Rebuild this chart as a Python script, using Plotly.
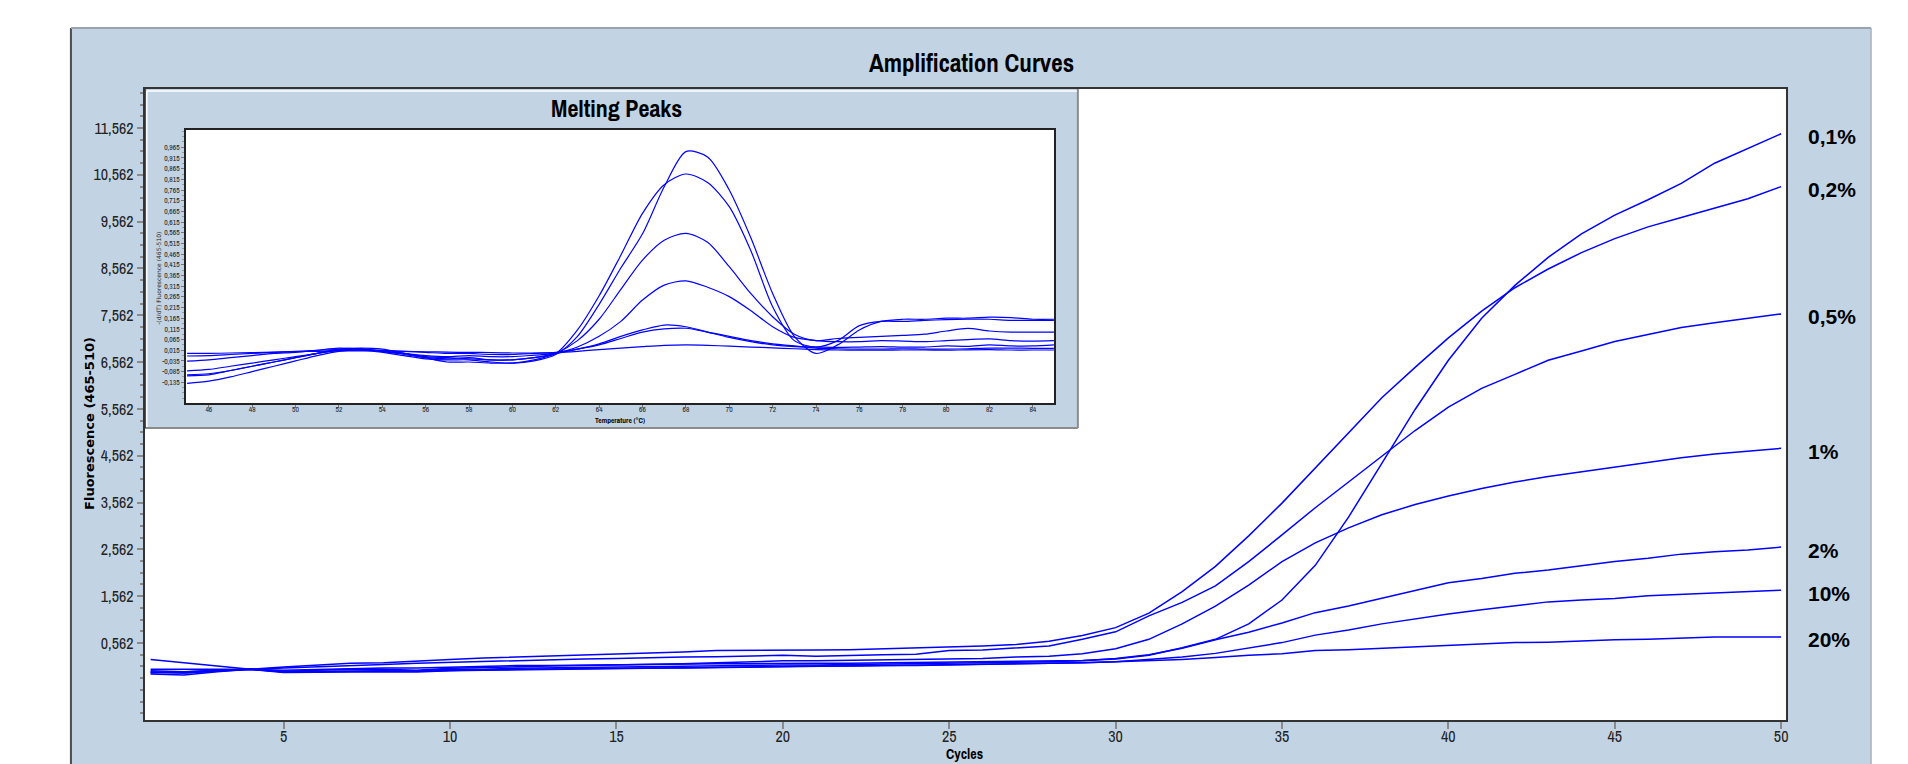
import plotly.graph_objects as go

# ---------------- DATA ----------------
cycles = list(range(1, 51))

amp_labels = ["0,1%", "0,2%", "0,5%", "1%", "2%", "10%", "20%"]

amp_01 = [-0.06, -0.08, -0.04, 0.0, -0.02, 0.0, 0.02, 0.03, 0.03, 0.05,
          0.06, 0.08, 0.08, 0.09, 0.10, 0.10, 0.11, 0.12, 0.12, 0.13,
          0.13, 0.13, 0.14, 0.15, 0.15, 0.16, 0.17, 0.18, 0.19, 0.22,
          0.30, 0.46, 0.64, 0.97, 1.48, 2.22, 3.25, 4.40, 5.55, 6.60,
          7.50, 8.20, 8.80, 9.30, 9.70, 10.03, 10.38, 10.81, 11.12, 11.44]
amp_02 = [0.21, 0.14, 0.07, 0.0, 0.05, 0.09, 0.13, 0.14, 0.18, 0.21,
          0.24, 0.26, 0.28, 0.31, 0.33, 0.35, 0.37, 0.40, 0.40, 0.40,
          0.41, 0.42, 0.44, 0.45, 0.48, 0.50, 0.53, 0.60, 0.72, 0.89,
          1.20, 1.66, 2.20, 2.85, 3.55, 4.30, 5.05, 5.80, 6.45, 7.08,
          7.65, 8.15, 8.55, 8.90, 9.20, 9.45, 9.65, 9.85, 10.05, 10.31]
amp_05 = [0.00, 0.00, 0.01, 0.0, 0.03, 0.05, 0.08, 0.10, 0.13, 0.15,
          0.17, 0.19, 0.20, 0.22, 0.23, 0.25, 0.26, 0.27, 0.29, 0.30,
          0.28, 0.30, 0.31, 0.32, 0.40, 0.41, 0.45, 0.50, 0.64, 0.80,
          1.14, 1.43, 1.78, 2.30, 2.87, 3.45, 4.00, 4.55, 5.10, 5.60,
          6.00, 6.30, 6.60, 6.80, 7.00, 7.15, 7.30, 7.40, 7.50, 7.59]
amp_1 = [-0.03, -0.05, -0.02, 0.0, -0.04, -0.02, 0.0, 0.0, -0.02, 0.02,
         0.04, 0.06, 0.07, 0.08, 0.09, 0.10, 0.12, 0.14, 0.16, 0.18,
         0.18, 0.19, 0.20, 0.20, 0.22, 0.23, 0.26, 0.28, 0.33, 0.44,
         0.64, 0.97, 1.35, 1.80, 2.30, 2.70, 3.02, 3.30, 3.52, 3.70,
         3.86, 4.00, 4.12, 4.22, 4.32, 4.42, 4.52, 4.60, 4.66, 4.72]
amp_2 = [-0.10, -0.12, -0.05, 0.0, -0.06, -0.05, -0.04, -0.03, -0.03, 0.0,
         0.0, 0.02, 0.03, 0.03, 0.04, 0.05, 0.06, 0.07, 0.08, 0.09,
         0.09, 0.10, 0.10, 0.11, 0.12, 0.13, 0.14, 0.16, 0.18, 0.23,
         0.31, 0.45, 0.63, 0.79, 0.99, 1.21, 1.35, 1.52, 1.68, 1.85,
         1.94, 2.05, 2.12, 2.21, 2.30, 2.37, 2.46, 2.51, 2.55, 2.61]
amp_10 = [-0.06, -0.08, -0.03, 0.0, -0.07, -0.06, -0.05, -0.05, -0.06, -0.03,
          -0.02, -0.01, 0.0, 0.0, 0.01, 0.02, 0.03, 0.04, 0.05, 0.06,
          0.07, 0.07, 0.08, 0.09, 0.10, 0.10, 0.11, 0.12, 0.14, 0.16,
          0.21, 0.26, 0.34, 0.45, 0.57, 0.73, 0.84, 0.97, 1.08, 1.18,
          1.27, 1.35, 1.44, 1.48, 1.51, 1.57, 1.60, 1.63, 1.66, 1.69]
amp_20 = [-0.08, -0.06, -0.02, 0.0, -0.05, -0.04, -0.03, -0.03, -0.04, -0.02,
          -0.01, 0.0, 0.01, 0.01, 0.02, 0.03, 0.03, 0.04, 0.05, 0.06,
          0.06, 0.07, 0.08, 0.08, 0.09, 0.10, 0.11, 0.12, 0.14, 0.16,
          0.18, 0.21, 0.25, 0.30, 0.33, 0.40, 0.42, 0.45, 0.49, 0.52,
          0.55, 0.57, 0.58, 0.61, 0.63, 0.64, 0.66, 0.69, 0.69, 0.69]

amp_series = [amp_01, amp_02, amp_05, amp_1, amp_2, amp_10, amp_20]

amp_x_ticks = [5, 10, 15, 20, 25, 30, 35, 40, 45, 50]
amp_y_ticks = [0.562, 1.562, 2.562, 3.562, 4.562, 5.562, 6.562, 7.562,
               8.562, 9.562, 10.562, 11.562]
amp_y_ticktext = ["0,562", "1,562", "2,562", "3,562", "4,562", "5,562",
                  "6,562", "7,562", "8,562", "9,562", "10,562", "11,562"]

temps = list(range(45, 86))
melt_1 = [-0.140, -0.130, -0.110, -0.085, -0.060, -0.035, -0.010, 0.010, 0.015, 0.005,
          -0.010, -0.025, -0.030, -0.030, -0.040, -0.045, -0.035, -0.005, 0.080, 0.230,
          0.400, 0.560, 0.780, 0.945, 0.920, 0.765, 0.540, 0.281, 0.080, 0.000,
          0.040, 0.110, 0.150, 0.160, 0.160, 0.165, 0.165, 0.170, 0.168, 0.160, 0.160]
melt_2 = [-0.100, -0.095, -0.080, -0.060, -0.040, -0.020, 0.000, 0.015, 0.020, 0.010,
          0.000, -0.015, -0.020, -0.025, -0.030, -0.030, -0.020, 0.000, 0.110, 0.270,
          0.460, 0.656, 0.790, 0.840, 0.800, 0.687, 0.480, 0.219, 0.060, 0.030,
          0.060, 0.130, 0.150, 0.150, 0.155, 0.158, 0.160, 0.160, 0.155, 0.155, 0.155]
melt_3 = [-0.105, -0.100, -0.080, -0.060, -0.040, -0.020, 0.000, 0.020, 0.025, 0.020,
          0.000, -0.020, -0.040, -0.040, -0.045, -0.045, -0.030, 0.000, 0.060, 0.160,
          0.300, 0.437, 0.530, 0.562, 0.520, 0.406, 0.280, 0.172, 0.090, 0.060,
          0.070, 0.075, 0.080, 0.085, 0.090, 0.105, 0.117, 0.105, 0.100, 0.100, 0.100]
melt_4 = [-0.082, -0.075, -0.060, -0.045, -0.030, -0.015, 0.000, 0.015, 0.020, 0.010,
          -0.005, -0.020, -0.025, -0.020, -0.030, -0.030, -0.020, 0.000, 0.030, 0.080,
          0.150, 0.250, 0.320, 0.340, 0.310, 0.266, 0.200, 0.125, 0.075, 0.060,
          0.055, 0.055, 0.060, 0.058, 0.055, 0.060, 0.065, 0.068, 0.060, 0.058, 0.060]
melt_5 = [-0.036, -0.030, -0.020, -0.010, 0.000, 0.005, 0.015, 0.025, 0.020, 0.010,
          0.000, -0.010, -0.015, -0.010, -0.015, -0.015, -0.008, 0.000, 0.020, 0.045,
          0.080, 0.110, 0.133, 0.125, 0.100, 0.075, 0.055, 0.040, 0.032, 0.030,
          0.028, 0.030, 0.032, 0.030, 0.030, 0.035, 0.033, 0.040, 0.035, 0.035, 0.040]
melt_6 = [-0.012, -0.010, -0.005, 0.000, 0.005, 0.010, 0.015, 0.018, 0.018, 0.015,
          0.010, 0.005, 0.000, 0.000, -0.005, -0.005, 0.000, 0.005, 0.020, 0.040,
          0.070, 0.100, 0.115, 0.118, 0.100, 0.080, 0.060, 0.045, 0.035, 0.025,
          0.022, 0.020, 0.020, 0.022, 0.020, 0.020, 0.022, 0.025, 0.025, 0.024, 0.024]
melt_7 = [0.000, 0.000, 0.002, 0.004, 0.006, 0.008, 0.010, 0.012, 0.012, 0.012,
          0.010, 0.008, 0.006, 0.005, 0.004, 0.002, 0.002, 0.004, 0.010, 0.018,
          0.025, 0.032, 0.038, 0.040, 0.038, 0.034, 0.030, 0.026, 0.022, 0.018,
          0.016, 0.015, 0.015, 0.016, 0.016, 0.015, 0.017, 0.018, 0.016, 0.016, 0.016]
melt_series = [melt_1, melt_2, melt_3, melt_4, melt_5, melt_6, melt_7]

melt_x_ticks = [46, 48, 50, 52, 54, 56, 58, 60, 62, 64, 66, 68, 70, 72, 74,
                76, 78, 80, 82, 84]
melt_y_ticks = [0.965, 0.915, 0.865, 0.815, 0.765, 0.715, 0.665, 0.615, 0.565,
                0.515, 0.465, 0.415, 0.365, 0.315, 0.265, 0.215, 0.165, 0.115,
                0.065, 0.015, -0.035, -0.085, -0.135]
melt_y_ticktext = ["0,965", "0,915", "0,865", "0,815", "0,765", "0,715", "0,665",
                   "0,615", "0,565", "0,515", "0,465", "0,415", "0,365", "0,315",
                   "0,265", "0,215", "0,165", "0,115", "0,065", "0,015", "-0,035",
                   "-0,085", "-0,135"]

# ---------------- LAYOUT HELPERS ----------------
# the page body keeps its default 8px margin; positions below are window pixels
OFF = 8
W, H = 1900, 756
def px(x):
    return (x - OFF) / W
def py(y):
    return 1 - (y - OFF) / H

PANEL = "#C2D4E4"
BLUE = "rgb(0,0,255)"
NARROW = "Archivo Narrow, Liberation Sans Narrow, DejaVu Sans Condensed, sans-serif"
ARIAL = "Liberation Sans, Arial, sans-serif"

fig = go.Figure()

for s in amp_series:
    fig.add_trace(go.Scatter(x=cycles, y=s, mode="lines", xaxis="x", yaxis="y",
                             line=dict(color=BLUE, width=1.5), hoverinfo="skip",
                             showlegend=False))
for s in melt_series:
    fig.add_trace(go.Scatter(x=temps, y=s, mode="lines", xaxis="x2", yaxis="y2",
                             line=dict(color=BLUE, width=1.2, shape="spline", smoothing=0.8),
                             hoverinfo="skip", showlegend=False))

shapes = [
    dict(type="rect", xref="paper", yref="paper", x0=px(71), x1=px(1873), y0=py(770), y1=py(28),
         fillcolor=PANEL, line=dict(width=0), layer="below"),
    dict(type="line", xref="paper", yref="paper", x0=px(71), x1=px(71), y0=py(770), y1=py(28),
         line=dict(color="#4d4d4d", width=2), layer="below"),
    dict(type="line", xref="paper", yref="paper", x0=px(71), x1=px(1873), y0=py(28), y1=py(28),
         line=dict(color="#9aa3ad", width=2), layer="below"),
    dict(type="line", xref="paper", yref="paper", x0=px(1873), x1=px(1873), y0=py(770), y1=py(28),
         line=dict(color="#a7b2bd", width=1.5), layer="below"),
    dict(type="rect", xref="paper", yref="paper", x0=px(145), x1=px(1788), y0=py(720), y1=py(89),
         fillcolor="white", line=dict(width=0), layer="below"),
    dict(type="rect", xref="paper", yref="paper", x0=px(145), x1=px(1079), y0=py(428), y1=py(89),
         fillcolor=PANEL, line=dict(width=0), layer="below"),
    dict(type="line", xref="paper", yref="paper", x0=px(1079), x1=px(1079), y0=py(428), y1=py(89),
         line=dict(color="#8c8c8c", width=2), layer="below"),
    dict(type="line", xref="paper", yref="paper", x0=px(145), x1=px(1079), y0=py(428), y1=py(428),
         line=dict(color="#8c8c8c", width=2), layer="below"),
    dict(type="line", xref="paper", yref="paper", x0=px(147), x1=px(147), y0=py(427), y1=py(91),
         line=dict(color="white", width=1.5), layer="below"),
    dict(type="line", xref="paper", yref="paper", x0=px(147), x1=px(1078), y0=py(91), y1=py(91),
         line=dict(color="white", width=1.5), layer="below"),
    dict(type="line", xref="paper", yref="paper", x0=px(145), x1=px(145), y0=py(428), y1=py(89),
         line=dict(color="black", width=1.5), layer="below"),
    dict(type="rect", xref="paper", yref="paper", x0=px(186), x1=px(1055), y0=py(403), y1=py(130),
         fillcolor="white", line=dict(width=0), layer="below"),
]

annotations = [
    dict(text="<b>Amplification Curves</b>", xref="paper", yref="paper", x=px(973), y=py(63),
         showarrow=False, font=dict(family=NARROW, size=25, color="black"),
         xanchor="center", yanchor="middle"),
    dict(text="<b>Melting Peaks</b>", xref="paper", yref="paper", x=px(617), y=py(108),
         showarrow=False, font=dict(family=NARROW, size=24, color="black"),
         xanchor="center", yanchor="middle"),
    dict(text="<b>Cycles</b>", xref="paper", yref="paper", x=px(966), y=py(754),
         showarrow=False, font=dict(family=NARROW, size=14, color="black"),
         xanchor="center", yanchor="middle"),
    dict(text="<b>Fluorescence (465-510)</b>", xref="paper", yref="paper", x=px(89), y=py(423),
         showarrow=False, textangle=-90, font=dict(family="DejaVu Sans", size=13, color="black"),
         xanchor="center", yanchor="middle"),
    dict(text="<b>Temperature (°C)</b>", xref="paper", yref="paper", x=px(621), y=py(420),
         showarrow=False, font=dict(family=NARROW, size=7.5, color="black"),
         xanchor="center", yanchor="middle"),
    dict(text="-(d/dT) Fluorescence (465-510)", xref="paper", yref="paper", x=px(158), y=py(278),
         showarrow=False, textangle=-90, font=dict(family="DejaVu Sans", size=6, color="#222"),
         xanchor="center", yanchor="middle"),
]
for lab, s in zip(amp_labels, amp_series):
    annotations.append(dict(text="<b>%s</b>" % lab, xref="paper", yref="y", x=px(1808), y=s[-1],
                            yshift=-3, showarrow=False, xanchor="left", yanchor="middle",
                            font=dict(family=ARIAL, size=21, color="black")))

fig.update_layout(
    width=W, height=H, autosize=False,
    margin=dict(l=0, r=0, t=0, b=0, pad=0),
    paper_bgcolor="white", plot_bgcolor="rgba(0,0,0,0)",
    showlegend=False,
    shapes=shapes, annotations=annotations,
    xaxis=dict(domain=[px(145), px(1788)], range=[0.827, 50.15], anchor="y",
               tickmode="array", tickvals=amp_x_ticks, ticktext=[str(v) for v in amp_x_ticks],
               ticks="outside", ticklen=7, tickwidth=1.5, tickcolor="#8a8a8a",
               ticklabelstandoff=-6,
               showline=True, linecolor="#333333", linewidth=2, mirror=True,
               showgrid=False, zeroline=False,
               tickfont=dict(family=NARROW, size=16, color="#222")),
    yaxis=dict(domain=[py(720), py(89)], range=[-1.083, 12.395], anchor="x",
               tickmode="array", tickvals=amp_y_ticks, ticktext=amp_y_ticktext,
               ticks="outside", ticklen=6, tickwidth=1.5, tickcolor="#8a8a8a",
               minor=dict(ticks="outside", ticklen=3, tickcolor="#8a8a8a", tickwidth=1.5,
                          tick0=0.562, dtick=0.25, showgrid=False),
               showline=True, linecolor="#333333", linewidth=2, mirror=True,
               showgrid=False, zeroline=False,
               tickfont=dict(family=NARROW, size=16, color="#222")),
    xaxis2=dict(domain=[px(186), px(1055)], range=[44.94, 84.97], anchor="y2",
                tickmode="array", tickvals=melt_x_ticks, ticktext=[str(v) for v in melt_x_ticks],
                ticks="outside", ticklen=3, tickwidth=1, tickcolor="#777",
                ticklabelstandoff=-5,
                showline=True, linecolor="#222", linewidth=1.5, mirror=True,
                showgrid=False, zeroline=False,
                tickfont=dict(family=NARROW, size=7.5, color="#222")),
    yaxis2=dict(domain=[py(403), py(130)], range=[-0.232, 1.046], anchor="x2",
                tickmode="array", tickvals=melt_y_ticks, ticktext=melt_y_ticktext,
                ticks="outside", ticklen=3, tickwidth=1, tickcolor="#777",
                minor=dict(ticks="outside", ticklen=2, tickcolor="#999", tick0=0.015, dtick=0.025),
                showline=True, linecolor="#222", linewidth=1.5, mirror=True,
                showgrid=False, zeroline=False,
                tickfont=dict(family=NARROW, size=7.5, color="#222")),
)

fig.write_html("out.html")
